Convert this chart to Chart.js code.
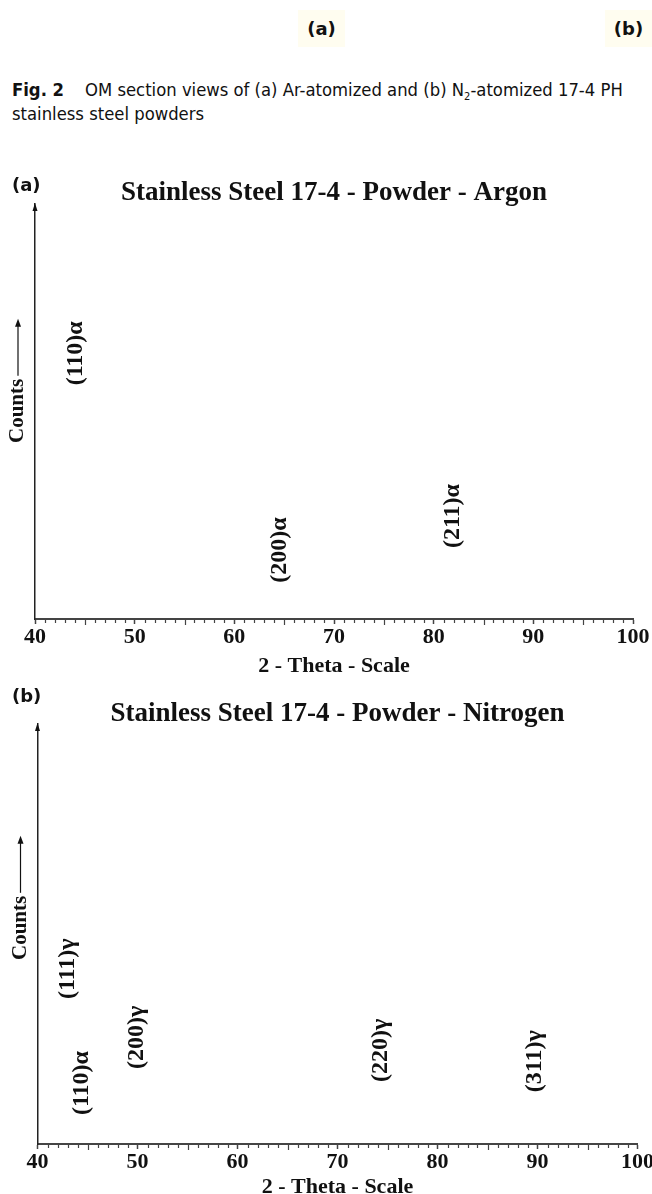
<!DOCTYPE html>
<html>
<head>
<meta charset="utf-8">
<script src="https://cdn.jsdelivr.net/npm/chart.js@4/dist/chart.umd.min.js"></script>
<style>
  body { margin: 0; width: 652px; height: 1194px; overflow: hidden; background: #fff; position: relative; color: #111; }
  .tag { position: absolute; top: 10px; width: 47px; height: 37px; background: #fffdf0;
         font: bold 18px "DejaVu Sans", sans-serif; line-height: 37px; text-align: center; }
  .caption { position: absolute; left: 12px; top: 78px; width: 640px; font-family: "DejaVu Sans Condensed", "DejaVu Sans", sans-serif;
             font-stretch: condensed; font-size: 18.3px; line-height: 24px; white-space: nowrap; }
  .caption b { margin-right: 21px; }
  .caption sub { font-size: 11px; vertical-align: -4px; line-height: 0; }
  .plabel { position: absolute; left: 12px; font: bold 18px "DejaVu Sans", sans-serif; }
  canvas { position: absolute; left: 0; }
</style>
</head>
<body>
<div class="tag" style="left:298px">(a)</div>
<div class="tag" style="left:605px">(b)</div>
<div class="caption"><b>Fig. 2</b>OM section views of (a) Ar-atomized and (b) N<sub>2</sub>-atomized 17-4 PH<br>stainless steel powders</div>

<canvas id="chartA" width="652" height="520" style="top:160px"></canvas>
<canvas id="chartB" width="656" height="518" style="top:680px"></canvas>
<div class="plabel" style="top:174px">(a)</div>
<div class="plabel" style="top:685px">(b)</div>

<script>
// x axis (2-theta, degrees)
const thetaMin = 40;
const thetaMax = 100;
const thetaTicks = [40, 50, 60, 70, 80, 90, 100];

// y axis is arbitrary counts, labels placed in 0..100
const countsMin = 0;
const countsMax = 100;

// Argon powder peaks
const argonPeaks = ["(110)α", "(200)α", "(211)α"];
const argonTheta = [44.1, 64.6, 81.9];
const argonLabelY = [64, 16.6, 24.8];

// Nitrogen powder peaks
const nitrogenPeaks = ["(111)γ", "(110)α", "(200)γ", "(220)γ", "(311)γ"];
const nitrogenTheta = [43.05, 44.45, 49.95, 74.35, 89.75];
const nitrogenLabelY = [41.7, 14.5, 25.4, 22.3, 19.7];

const serif = "'Liberation Serif', 'Times New Roman', serif";

// minor ticks, axis arrows, "Counts" label and peak names
const xrdDecor = {
  id: "xrdDecor",
  afterDraw(chart, args, opts) {
    const { ctx, chartArea: a, scales: { x } } = chart;
    ctx.save();

    // minor ticks every degree, mid ticks every 5
    ctx.strokeStyle = "#444";
    ctx.lineWidth = 1.2;
    for (let v = thetaMin + 1; v < thetaMax; v++) {
      if (v % 10 === 0) continue;
      const px = Math.round(x.getPixelForValue(v)) + 0.5;
      const len = v % 5 === 0 ? 5 : 3;
      ctx.beginPath();
      ctx.moveTo(px, a.bottom + 1);
      ctx.lineTo(px, a.bottom + 1 + len);
      ctx.stroke();
    }

    // arrow head on top of the y axis
    ctx.fillStyle = "#111";
    ctx.beginPath();
    ctx.moveTo(a.left, a.top - 1);
    ctx.lineTo(a.left - 2.5, a.top + 7);
    ctx.lineTo(a.left + 2.5, a.top + 7);
    ctx.closePath();
    ctx.fill();

    // Counts ---->
    ctx.save();
    ctx.translate(a.left - 17, a.top + opts.countsOffset);
    ctx.rotate(-Math.PI / 2);
    ctx.font = "bold 21px " + serif;
    ctx.textAlign = "center";
    ctx.textBaseline = "middle";
    ctx.fillText("Counts", 0, 0);
    const w = ctx.measureText("Counts").width;
    const s = w / 2 + 3, e = s + 57;
    ctx.strokeStyle = "#111";
    ctx.lineWidth = 1.2;
    ctx.beginPath();
    ctx.moveTo(s, 0);
    ctx.lineTo(e - 6, 0);
    ctx.stroke();
    ctx.beginPath();
    ctx.moveTo(e, 0);
    ctx.lineTo(e - 8, -3);
    ctx.lineTo(e - 8, 3);
    ctx.closePath();
    ctx.fill();
    ctx.restore();

    // peak labels, rotated
    const ds = chart.data.datasets[0];
    chart.getDatasetMeta(0).data.forEach((pt, i) => {
      ctx.save();
      ctx.translate(pt.x, pt.y);
      ctx.rotate(-Math.PI / 2);
      ctx.font = "bold 24px " + serif;
      ctx.textAlign = "center";
      ctx.textBaseline = "middle";
      ctx.fillStyle = "#111";
      ctx.fillText(ds.peakNames[i], 0, 0);
      ctx.restore();
    });
    ctx.restore();
  }
};

function makeChart(id, title, names, theta, labelY, cfg) {
  return new Chart(document.getElementById(id), {
    type: "scatter",
    data: {
      datasets: [{
        data: theta.map((t, i) => ({ x: t, y: labelY[i] })),
        peakNames: names,
        pointRadius: 0,
        pointHoverRadius: 0
      }]
    },
    options: {
      responsive: false,
      animation: false,
      events: [],
      layout: { padding: { left: cfg.left, right: cfg.right, top: 0, bottom: 0 } },
      plugins: {
        legend: { display: false },
        tooltip: { enabled: false },
        title: {
          display: true,
          text: title,
          color: "#111",
          font: { family: serif, size: 27, weight: "bold", lineHeight: 0.7 },
          padding: { top: cfg.titleTop, bottom: cfg.titleBottom }
        },
        xrdDecor: { countsOffset: cfg.countsOffset }
      },
      scales: {
        x: {
          type: "linear",
          min: thetaMin,
          max: thetaMax,
          afterBuildTicks: scale => { scale.ticks = thetaTicks.map(v => ({ value: v })); },
          ticks: { color: "#111", padding: 0, font: { family: serif, size: 22, weight: "bold" } },
          grid: { drawOnChartArea: false, tickLength: 5, tickColor: "#444", tickWidth: 1.5 },
          border: { color: "#444", width: 2 },
          title: {
            display: true,
            text: "2 - Theta - Scale",
            color: "#111",
            font: { family: serif, size: 22, weight: "bold", lineHeight: 1 },
            padding: { top: cfg.axisTitleTop, bottom: cfg.axisTitleBottom }
          }
        },
        y: {
          min: countsMin,
          max: countsMax,
          ticks: { display: false },
          grid: { display: false, drawTicks: false },
          border: { color: "#222", width: 1.5 }
        }
      }
    },
    plugins: [xrdDecor]
  });
}

makeChart("chartA", "Stainless Steel 17-4 - Powder - Argon", argonPeaks, argonTheta, argonLabelY,
  { left: 35, right: 19, titleTop: 24, titleBottom: 1, axisTitleTop: 4.6, axisTitleBottom: 3, countsOffset: 207 });
makeChart("chartB", "Stainless Steel 17-4 - Powder - Nitrogen", nitrogenPeaks, nitrogenTheta, nitrogenLabelY,
  { left: 37.5, right: 18.5, titleTop: 25, titleBottom: 0, axisTitleTop: 0.6, axisTitleBottom: 0, countsOffset: 204 });
</script>
</body>
</html>
